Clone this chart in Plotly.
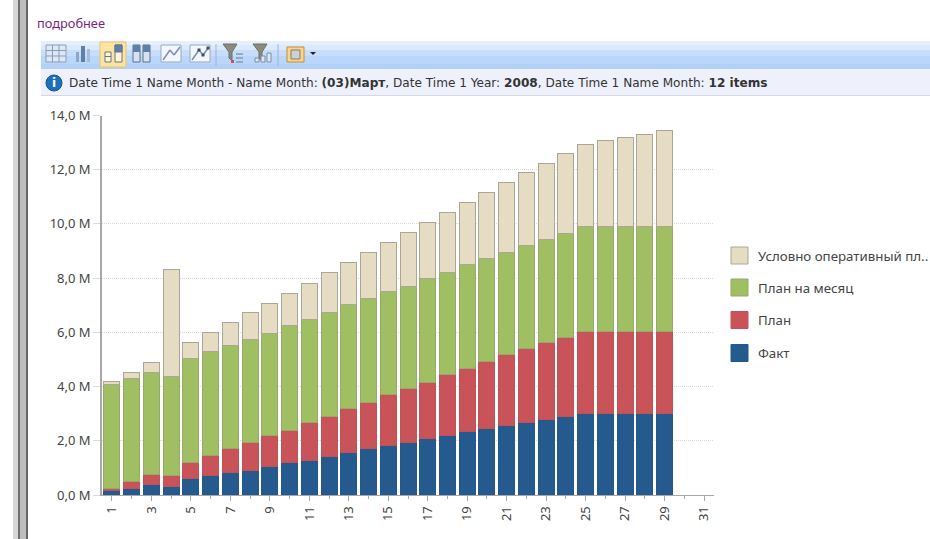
import plotly.graph_objects as go

W, H = 930, 539

days = list(range(1, 30))
all_days_ticks = list(range(1, 32, 2))
y_tick_vals = [0, 2, 4, 6, 8, 10, 12, 14]
y_tick_text = ["0,0 M", "2,0 M", "4,0 M", "6,0 M", "8,0 M", "10,0 M", "12,0 M", "14,0 M"]

# Cumulative tops of each stacked segment (millions)
fact_top = [0.16, 0.25, 0.37, 0.33, 0.62, 0.71, 0.84, 0.92, 1.07, 1.19, 1.29, 1.43, 1.56, 1.70, 1.83,
            1.93, 2.07, 2.21, 2.35, 2.44, 2.58, 2.67, 2.77, 2.90, 3.00, 3.00, 3.00, 3.00, 3.00]
plan_top = [0.24, 0.48, 0.75, 0.71, 1.20, 1.44, 1.72, 1.94, 2.18, 2.39, 2.67, 2.90, 3.19, 3.41, 3.69,
            3.93, 4.15, 4.43, 4.68, 4.94, 5.17, 5.40, 5.63, 5.81, 6.05, 6.05, 6.05, 6.05, 6.05]
month_top = [4.09, 4.30, 4.53, 4.39, 5.05, 5.28, 5.51, 5.73, 5.97, 6.24, 6.47, 6.75, 7.03, 7.25, 7.49,
             7.71, 8.00, 8.22, 8.50, 8.73, 8.96, 9.20, 9.42, 9.66, 9.89, 9.89, 9.89, 9.89, 9.89]
oper_top = [4.17, 4.53, 4.90, 8.32, 5.63, 6.00, 6.37, 6.74, 7.06, 7.44, 7.80, 8.21, 8.59, 8.96, 9.33,
            9.70, 10.07, 10.43, 10.80, 11.17, 11.54, 11.91, 12.23, 12.60, 12.92, 13.06, 13.20, 13.30, 13.45]

series = [
    ("Факт", [v * 1e6 for v in fact_top], "#255A8E", "#24588A"),
    ("План", [(b - a) * 1e6 for a, b in zip(fact_top, plan_top)], "#C8545A", "#C05257"),
    ("План на месяц", [(b - a) * 1e6 for a, b in zip(plan_top, month_top)], "#A0BF62", "#96A86E"),
    ("Условно оперативный пл..", [(b - a) * 1e6 for a, b in zip(month_top, oper_top)], "#E5DCC3", "#ABA797"),
]

fig = go.Figure()
for name, vals, color, line in series:
    fig.add_bar(x=days, y=vals, name=name, marker=dict(color=color, line=dict(color=line, width=1)))

def X(p): return p / W
def Y(p): return 1 - p / H

shapes, notes = [], []

def rect(x0, y0, x1, y1, fill, line=None, lw=1, layer="below"):
    shapes.append(dict(type="rect", xref="paper", yref="paper", x0=X(x0), x1=X(x1), y0=Y(y0), y1=Y(y1),
                       fillcolor=fill, line=dict(color=line or fill, width=lw if line else 0), layer=layer))

def seg(x0, y0, x1, y1, color, lw=1):
    shapes.append(dict(type="line", xref="paper", yref="paper", x0=X(x0), x1=X(x1), y0=Y(y0), y1=Y(y1),
                       line=dict(color=color, width=lw), layer="below"))

def text(x, y, s, size=12, color="#333", family="DejaVu Sans", anchor="left"):
    notes.append(dict(xref="paper", yref="paper", x=X(x), y=Y(y), text=s, showarrow=False, xanchor=anchor,
                      yanchor="middle", font=dict(size=size, color=color, family=family), borderpad=0, borderwidth=0))

# Left window stripes
rect(13, 0, 18, H, "#D6D6D6")
rect(18, 0, 20, H, "#6F6F6F")
rect(20, 0, 26, H, "#BDBDBD")
rect(26, 0, 28, H, "#666666")

# Toolbar gradient
for y0, y1, c in [(41, 45, "#E6F0FD"), (45, 50, "#DCE9FB"), (50, 56, "#C6DDFB"), (56, 64, "#BAD6FA"), (64, 69, "#B2D1F8")]:
    rect(41, y0, W, y1, c)
rect(41, 69, W, 95, "#EEF1FB")
seg(41, 95.5, W, 95.5, "#D5D8E2")

# Toolbar buttons
rect(100, 42, 126, 67, "#FBE3A0", "#E8C56E")
# grid icon
rect(46, 45, 66, 62, "#DDE8F6", "#8A9DB5")
for gx in (52.5, 59):
    seg(gx, 45, gx, 62, "#8A9DB5")
for gy in (50.5, 56):
    seg(46, gy, 66, gy, "#8A9DB5")
# bar icon
rect(76, 52, 79, 62, "#8FA7C4"); rect(81, 46, 85, 62, "#5E7FA6"); rect(87, 49, 90, 62, "#A9BCD3")
# stacked (active)
rect(105, 52, 111, 62, "#FFF4D6", "#65758B"); rect(105, 56, 111, 57, "#65758B")
rect(115, 45, 122, 62, "#FFF4D6", "#65758B"); rect(115, 45, 122, 52, "#5E7FA6", "#65758B")
# full-stacked
rect(133, 45, 140, 62, "#D7E2F0", "#5E6F87"); rect(133, 45, 140, 52, "#5E7FA6")
rect(143, 45, 150, 62, "#D7E2F0", "#5E6F87"); rect(143, 45, 150, 52, "#5E7FA6")
# line icons
for bx, marker in ((161, False), (190, True)):
    rect(bx, 45, bx + 20, 62, "#F2F6FC", "#9AA9BC")
    seg(bx + 2, 60, bx + 9, 50, "#7C8FA8", 1.5); seg(bx + 9, 50, bx + 13, 55, "#7C8FA8", 1.5)
    seg(bx + 13, 55, bx + 19, 47, "#7C8FA8", 1.5)
    if marker:
        for px, py in ((bx + 9, 50), (bx + 13, 55), (bx + 18, 48)):
            rect(px - 1.5, py - 1.5, px + 1.5, py + 1.5, "#3D4E66")
seg(216, 44, 216, 66, "#9DB4D4")
# filter icons
for fx in (223, 253):
    shapes.append(dict(type="path", xref="paper", yref="paper", layer="below",
                       path=f"M {X(fx)},{Y(44)} L {X(fx+14)},{Y(44)} L {X(fx+9)},{Y(52)} L {X(fx+9)},{Y(61)} L {X(fx+6)},{Y(58)} L {X(fx+6)},{Y(52)} Z",
                       fillcolor="#8A8A80", line=dict(color="#6F6F66", width=1)))
for my in (54, 58, 62):
    seg(236, my, 243, my, "#6C7A8E")
rect(231, 60, 234, 63, "#C8545A")
for bx, by in ((255, 58), (261, 56), (267, 53)):
    rect(bx, by, bx + 4, 62, "#DDE8F6", "#7D8CA0")
seg(278, 44, 278, 66, "#9DB4D4")
# chart-wizard icon
rect(287, 47, 304, 62, "#F6D78E", "#C68A3A")
rect(291, 50, 300, 59, "#C8D2DC", "#8D7A58")
shapes.append(dict(type="path", xref="paper", yref="paper", layer="below",
                   path=f"M {X(310)},{Y(52)} L {X(316)},{Y(52)} L {X(313)},{Y(55)} Z", fillcolor="#222", line=dict(width=0)))
# info bubble
shapes.append(dict(type="circle", xref="paper", yref="paper", x0=X(46), x1=X(62), y0=Y(75), y1=Y(91),
                   fillcolor="#1F6FBF", line=dict(color="#15558F", width=1), layer="below"))
text(54, 83, "<b>i</b>", 12, "#FFFFFF", "DejaVu Sans", "center")

text(37, 22.5, "подробнее", 12.8, "#7A1F7A", "Noto Sans")
text(68.5, 82.5,
     "Date Time 1 Name Month - Name Month: <b>(03)Март</b>, Date Time 1 Year: <b>2008</b>, "
     "Date Time 1 Name Month: <b>12 items</b>", 12.1, "#333")

# Legend, drawn to match the original swatch size and spacing
for (name, vals, color, line), ly in zip(reversed(series), (255.5, 287.5, 320, 353)):
    rect(731, ly - 8.5, 748, ly + 8.5, color, line)
    text(758, ly, name, 13.3, "#444", "Noto Sans")

fig.update_layout(
    width=W, height=H, autosize=False,
    margin=dict(l=0, r=0, t=0, b=0, pad=0),
    paper_bgcolor="#FFFFFF", plot_bgcolor="#FFFFFF",
    barmode="stack", bargap=0.19, showlegend=False,
    shapes=shapes, annotations=notes,
    font=dict(family="Noto Sans", size=13, color="#444"),
    xaxis=dict(domain=[X(102), X(714)], range=[0.5, 31.5], tickmode="array", automargin=False,
               tickvals=all_days_ticks, ticktext=[str(v) for v in all_days_ticks],
               tickangle=-90, ticks="outside", ticklen=5, tickcolor="#A8A8A8", showgrid=False, zeroline=False,
               showline=True, linecolor="#A8A8A8", linewidth=1,
               tickfont=dict(size=13, color="#444"),
               minor=dict(tickmode="linear", tick0=2, dtick=2, ticks="outside", ticklen=3, tickcolor="#A8A8A8", showgrid=False)),
    yaxis=dict(domain=[1 - 495 / H, 1 - 115.5 / H], range=[0, 14e6], tickmode="array", automargin=False,
               tickvals=[v * 1e6 for v in y_tick_vals], ticktext=y_tick_text,
               ticks="outside", ticklen=7, tickcolor="#DDDDDD", zeroline=False,
               showgrid=True, gridcolor="#DADADA", griddash="1px,1px", gridwidth=1,
               showline=True, linecolor="#A8A8A8", linewidth=1.5,
               tickfont=dict(size=13, color="#444")),
)

fig.write_html("out.html", config=dict(displayModeBar=False),
               post_script="document.body.style.margin='0';document.body.style.overflow='hidden';")
